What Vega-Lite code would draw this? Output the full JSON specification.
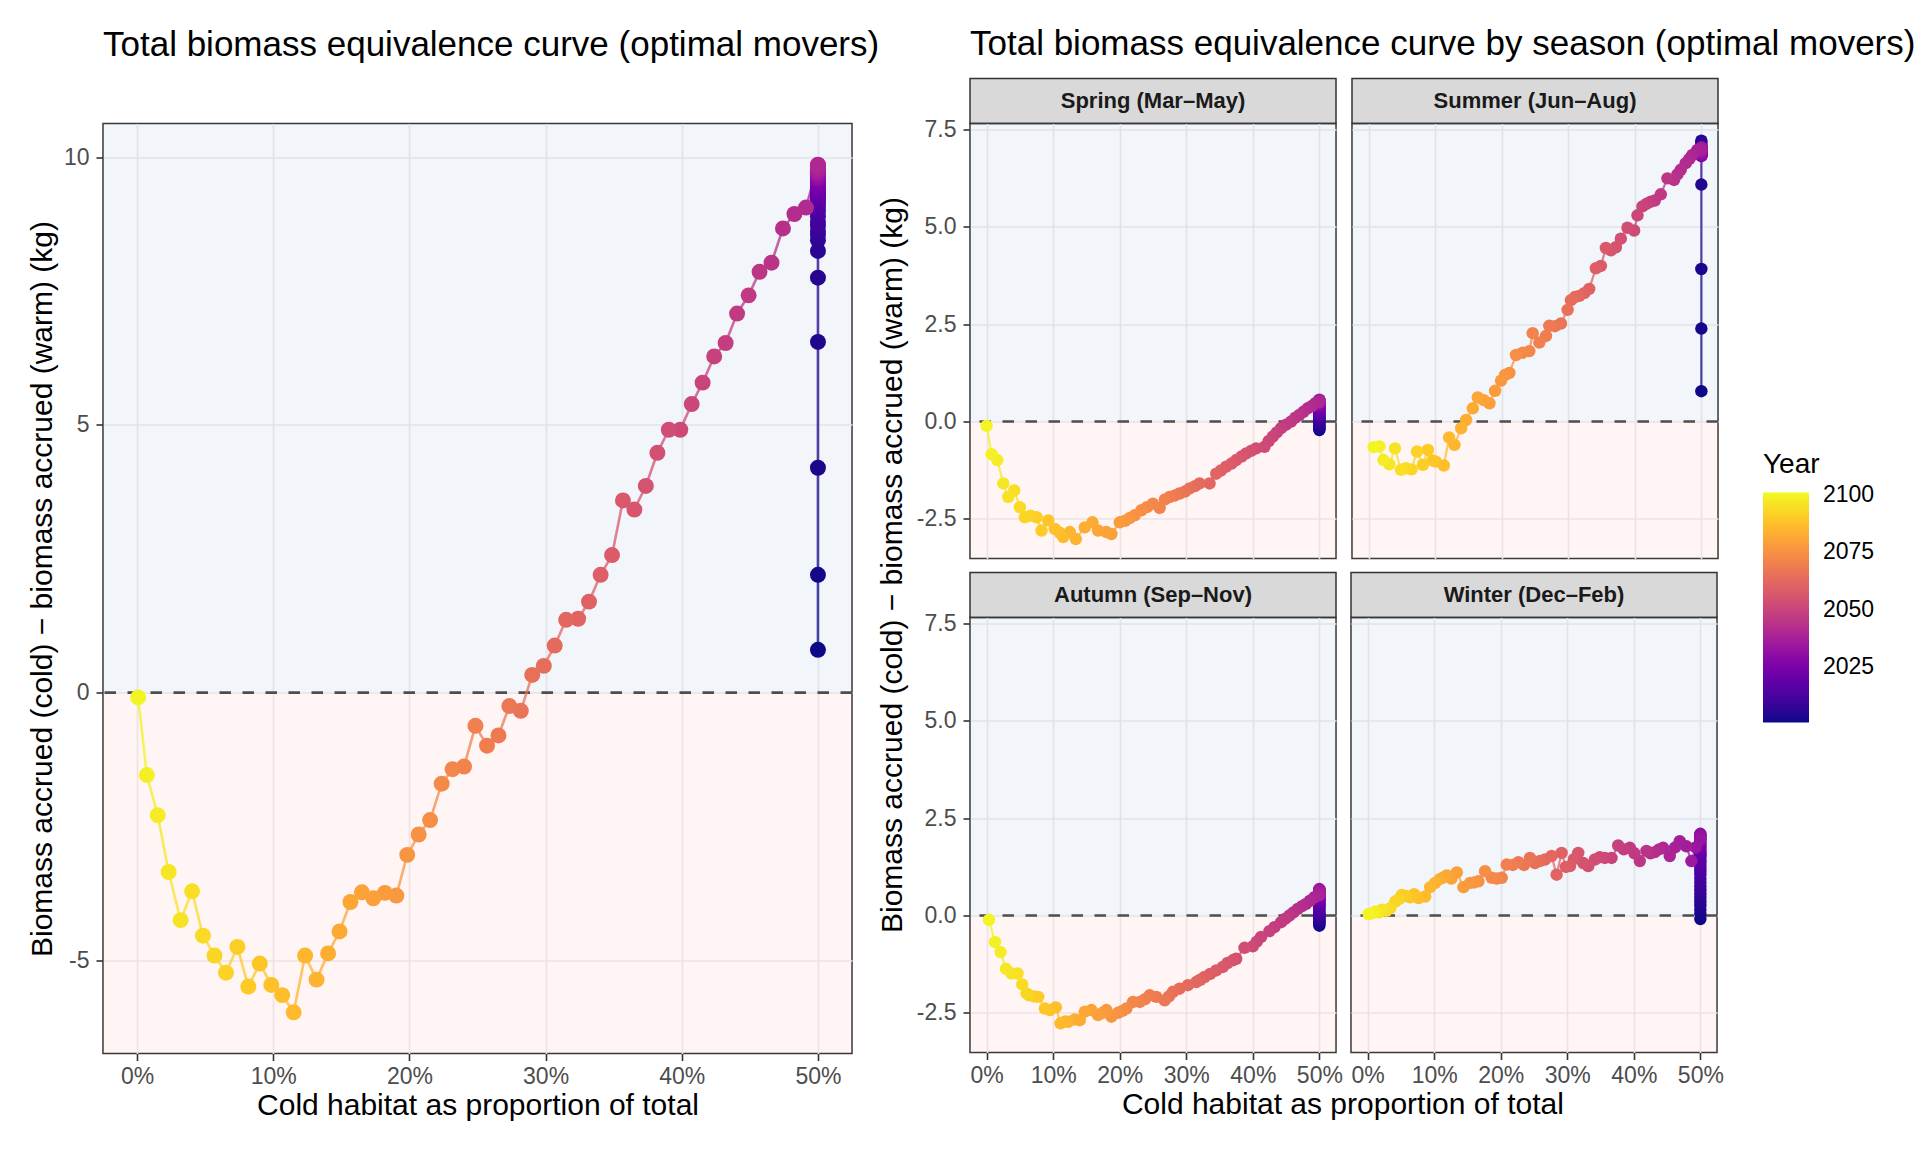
{
  "$schema": "https://vega.github.io/schema/vega-lite/v6.json",
  "padding": {"left": 26, "top": 26.5, "right": 0, "bottom": 0},
  "background": "white",
  "config": {
    "font": "Liberation Sans",
    "view": {"stroke": "#333333", "strokeWidth": 1.5},
    "axis": {"labelFontSize": 23, "labelColor": "#4D4D4D", "labelFont": "Liberation Sans", "titleFont": "Liberation Sans", "titleFontSize": 30, "titleFontWeight": "normal", "titleColor": "#000000", "tickColor": "#333333", "tickSize": 7, "tickWidth": 1.6, "domain": false, "gridColor": "#EBEBEB", "gridWidth": 1.6, "labelFlush": false, "labelPadding": 6},
    "title": {"fontSize": 35, "fontWeight": "normal", "color": "#000000", "font": "Liberation Sans"},
    "legend": {"orient": "none", "legendX": 1660, "legendY": 372, "direction": "vertical", "gradientLength": 230, "gradientThickness": 46, "titleFontSize": 28, "titleFontWeight": "normal", "titleColor": "#000000", "labelFontSize": 23, "labelColor": "#000000", "titlePadding": 14, "labelOffset": 14, "gradientStrokeWidth": 0, "labelFont": "Liberation Sans", "titleFont": "Liberation Sans"}
  },
  "datasets": {
    "tot": [
      {"yr":2100,"p":0.08,"v":-0.09},{"yr":2099,"p":0.72,"v":-1.54},{"yr":2098,"p":1.52,"v":-2.29},{"yr":2097,"p":2.32,"v":-3.35},
      {"yr":2096,"p":3.20,"v":-4.25},{"yr":2095,"p":4.04,"v":-3.71},{"yr":2094,"p":4.84,"v":-4.54},{"yr":2093,"p":5.69,"v":-4.91},
      {"yr":2092,"p":6.53,"v":-5.23},{"yr":2091,"p":7.37,"v":-4.75},{"yr":2090,"p":8.17,"v":-5.49},{"yr":2089,"p":9.01,"v":-5.06},
      {"yr":2088,"p":9.86,"v":-5.46},{"yr":2087,"p":10.66,"v":-5.65},{"yr":2086,"p":11.50,"v":-5.97},{"yr":2085,"p":12.34,"v":-4.91},
      {"yr":2084,"p":13.18,"v":-5.36},{"yr":2083,"p":14.03,"v":-4.87},{"yr":2082,"p":14.87,"v":-4.46},{"yr":2081,"p":15.67,"v":-3.91},
      {"yr":2080,"p":16.51,"v":-3.73},{"yr":2079,"p":17.35,"v":-3.84},{"yr":2078,"p":18.20,"v":-3.74},{"yr":2077,"p":19.04,"v":-3.79},
      {"yr":2076,"p":19.84,"v":-3.03},{"yr":2075,"p":20.68,"v":-2.65},{"yr":2074,"p":21.52,"v":-2.38},{"yr":2073,"p":22.37,"v":-1.70},
      {"yr":2072,"p":23.17,"v":-1.43},{"yr":2071,"p":24.01,"v":-1.38},{"yr":2070,"p":24.85,"v":-0.62},{"yr":2069,"p":25.70,"v":-0.99},
      {"yr":2068,"p":26.54,"v":-0.80},{"yr":2067,"p":27.34,"v":-0.25},{"yr":2066,"p":28.18,"v":-0.34},{"yr":2065,"p":29.02,"v":0.33},
      {"yr":2064,"p":29.87,"v":0.50},{"yr":2063,"p":30.67,"v":0.88},{"yr":2062,"p":31.51,"v":1.36},{"yr":2061,"p":32.39,"v":1.38},
      {"yr":2060,"p":33.19,"v":1.70},{"yr":2059,"p":34.04,"v":2.20},{"yr":2058,"p":34.88,"v":2.57},{"yr":2057,"p":35.68,"v":3.59},
      {"yr":2056,"p":36.52,"v":3.42},{"yr":2055,"p":37.36,"v":3.86},{"yr":2054,"p":38.21,"v":4.48},{"yr":2053,"p":39.05,"v":4.91},
      {"yr":2052,"p":39.89,"v":4.91},{"yr":2051,"p":40.73,"v":5.39},{"yr":2050,"p":41.53,"v":5.79},{"yr":2049,"p":42.38,"v":6.28},
      {"yr":2048,"p":43.22,"v":6.53},{"yr":2047,"p":44.06,"v":7.08},{"yr":2046,"p":44.91,"v":7.42},{"yr":2045,"p":45.71,"v":7.86},
      {"yr":2044,"p":46.59,"v":8.03},{"yr":2043,"p":47.43,"v":8.67},{"yr":2042,"p":48.27,"v":8.94},{"yr":2041,"p":49.12,"v":9.06},
      {"yr":2040,"p":50,"v":9.86},{"yr":2039,"p":50,"v":9.80},{"yr":2038,"p":50,"v":9.85},{"yr":2037,"p":50,"v":9.74},
      {"yr":2036,"p":50,"v":9.82},{"yr":2035,"p":50,"v":9.78},{"yr":2034,"p":50,"v":9.68},{"yr":2033,"p":50,"v":9.75},
      {"yr":2032,"p":50,"v":9.72},{"yr":2031,"p":50,"v":9.62},{"yr":2030,"p":50,"v":9.70},{"yr":2029,"p":50,"v":9.65},
      {"yr":2028,"p":50,"v":9.58},{"yr":2027,"p":50,"v":9.60},{"yr":2026,"p":50,"v":9.55},{"yr":2025,"p":50,"v":9.48},
      {"yr":2024,"p":50,"v":9.50},{"yr":2023,"p":50,"v":9.45},{"yr":2022,"p":50,"v":9.38},{"yr":2021,"p":50,"v":9.40},
      {"yr":2020,"p":50,"v":9.35},{"yr":2019,"p":50,"v":9.26},{"yr":2018,"p":50,"v":9.30},{"yr":2017,"p":50,"v":9.22},
      {"yr":2016,"p":50,"v":9.18},{"yr":2015,"p":50,"v":9.12},{"yr":2014,"p":50,"v":9.05},{"yr":2013,"p":50,"v":8.98},
      {"yr":2012,"p":50,"v":8.90},{"yr":2011,"p":50,"v":8.80},{"yr":2010,"p":50,"v":8.72},{"yr":2009,"p":50,"v":8.62},
      {"yr":2008,"p":50,"v":8.55},{"yr":2007,"p":50,"v":8.45},{"yr":2006,"p":50,"v":8.25},{"yr":2005,"p":50,"v":7.75},
      {"yr":2004,"p":50,"v":6.55},{"yr":2003,"p":50,"v":4.20},{"yr":2002,"p":50,"v":2.20},{"yr":2001,"p":50,"v":0.80}
    ],
    "sea": [
      {"s":"Spring","yr":2100,"p":0.0,"v":-0.11},{"s":"Spring","yr":2099,"p":0.75,"v":-0.84},{"s":"Spring","yr":2098,"p":1.6,"v":-0.99},
      {"s":"Spring","yr":2097,"p":2.5,"v":-1.59},{"s":"Spring","yr":2096,"p":3.25,"v":-1.94},{"s":"Spring","yr":2095,"p":4.15,"v":-1.77},
      {"s":"Spring","yr":2094,"p":5.0,"v":-2.2},{"s":"Spring","yr":2093,"p":5.75,"v":-2.46},{"s":"Spring","yr":2092,"p":6.6,"v":-2.42},
      {"s":"Spring","yr":2091,"p":7.5,"v":-2.46},{"s":"Spring","yr":2090,"p":8.25,"v":-2.8},{"s":"Spring","yr":2089,"p":9.25,"v":-2.54},
      {"s":"Spring","yr":2088,"p":10.25,"v":-2.76},{"s":"Spring","yr":2087,"p":11.0,"v":-2.86},{"s":"Spring","yr":2086,"p":11.5,"v":-2.97},
      {"s":"Spring","yr":2085,"p":12.5,"v":-2.84},{"s":"Spring","yr":2084,"p":13.4,"v":-3.02},{"s":"Spring","yr":2083,"p":14.75,"v":-2.72},
      {"s":"Spring","yr":2082,"p":15.9,"v":-2.59},{"s":"Spring","yr":2081,"p":16.75,"v":-2.8},{"s":"Spring","yr":2080,"p":18.0,"v":-2.84},
      {"s":"Spring","yr":2079,"p":18.75,"v":-2.89},{"s":"Spring","yr":2078,"p":20.0,"v":-2.59},{"s":"Spring","yr":2077,"p":20.8,"v":-2.55},
      {"s":"Spring","yr":2076,"p":21.5,"v":-2.48},{"s":"Spring","yr":2075,"p":22.25,"v":-2.41},{"s":"Spring","yr":2074,"p":23.25,"v":-2.28},
      {"s":"Spring","yr":2073,"p":24.1,"v":-2.2},{"s":"Spring","yr":2072,"p":25.0,"v":-2.11},{"s":"Spring","yr":2071,"p":26.0,"v":-2.22},
      {"s":"Spring","yr":2070,"p":26.8,"v":-2.0},{"s":"Spring","yr":2069,"p":27.5,"v":-1.94},{"s":"Spring","yr":2068,"p":28.3,"v":-1.9},
      {"s":"Spring","yr":2067,"p":29.0,"v":-1.85},{"s":"Spring","yr":2066,"p":29.8,"v":-1.8},{"s":"Spring","yr":2065,"p":30.5,"v":-1.72},
      {"s":"Spring","yr":2064,"p":31.3,"v":-1.66},{"s":"Spring","yr":2063,"p":32.0,"v":-1.59},{"s":"Spring","yr":2062,"p":33.5,"v":-1.59},
      {"s":"Spring","yr":2061,"p":34.5,"v":-1.34},{"s":"Spring","yr":2060,"p":35.2,"v":-1.26},{"s":"Spring","yr":2059,"p":36.0,"v":-1.16},
      {"s":"Spring","yr":2058,"p":36.8,"v":-1.08},{"s":"Spring","yr":2057,"p":37.5,"v":-0.99},{"s":"Spring","yr":2056,"p":38.3,"v":-0.9},
      {"s":"Spring","yr":2055,"p":39.0,"v":-0.82},{"s":"Spring","yr":2054,"p":39.8,"v":-0.75},{"s":"Spring","yr":2053,"p":40.5,"v":-0.69},
      {"s":"Spring","yr":2052,"p":41.75,"v":-0.65},{"s":"Spring","yr":2051,"p":42.4,"v":-0.5},{"s":"Spring","yr":2050,"p":43.0,"v":-0.39},
      {"s":"Spring","yr":2049,"p":43.6,"v":-0.28},{"s":"Spring","yr":2048,"p":44.25,"v":-0.17},{"s":"Spring","yr":2047,"p":45.0,"v":-0.08},
      {"s":"Spring","yr":2046,"p":45.75,"v":0.0},{"s":"Spring","yr":2045,"p":46.4,"v":0.1},{"s":"Spring","yr":2044,"p":47.0,"v":0.17},
      {"s":"Spring","yr":2043,"p":47.6,"v":0.25},{"s":"Spring","yr":2042,"p":48.25,"v":0.34},{"s":"Spring","yr":2041,"p":48.9,"v":0.4},
      {"s":"Spring","yr":2040,"p":49.4,"v":0.47},
      {"s":"Spring","yr":2039,"p":50,"v":0.5},{"s":"Spring","yr":2038,"p":50,"v":0.52},{"s":"Spring","yr":2037,"p":50,"v":0.55},
      {"s":"Spring","yr":2036,"p":50,"v":0.56},{"s":"Spring","yr":2035,"p":50,"v":0.53},{"s":"Spring","yr":2034,"p":50,"v":0.54},
      {"s":"Spring","yr":2033,"p":50,"v":0.52},{"s":"Spring","yr":2032,"p":50,"v":0.49},{"s":"Spring","yr":2031,"p":50,"v":0.5},
      {"s":"Spring","yr":2030,"p":50,"v":0.48},{"s":"Spring","yr":2029,"p":50,"v":0.44},{"s":"Spring","yr":2028,"p":50,"v":0.45},
      {"s":"Spring","yr":2027,"p":50,"v":0.43},{"s":"Spring","yr":2026,"p":50,"v":0.39},{"s":"Spring","yr":2025,"p":50,"v":0.4},
      {"s":"Spring","yr":2024,"p":50,"v":0.38},{"s":"Spring","yr":2023,"p":50,"v":0.35},{"s":"Spring","yr":2022,"p":50,"v":0.31},
      {"s":"Spring","yr":2021,"p":50,"v":0.32},{"s":"Spring","yr":2020,"p":50,"v":0.3},{"s":"Spring","yr":2019,"p":50,"v":0.27},
      {"s":"Spring","yr":2018,"p":50,"v":0.23},{"s":"Spring","yr":2017,"p":50,"v":0.24},{"s":"Spring","yr":2016,"p":50,"v":0.21},
      {"s":"Spring","yr":2015,"p":50,"v":0.18},{"s":"Spring","yr":2014,"p":50,"v":0.14},{"s":"Spring","yr":2013,"p":50,"v":0.15},
      {"s":"Spring","yr":2012,"p":50,"v":0.12},{"s":"Spring","yr":2011,"p":50,"v":0.1},{"s":"Spring","yr":2010,"p":50,"v":0.07},
      {"s":"Spring","yr":2009,"p":50,"v":0.04},{"s":"Spring","yr":2008,"p":50,"v":0.02},{"s":"Spring","yr":2007,"p":50,"v":-0.02},
      {"s":"Spring","yr":2006,"p":50,"v":-0.05},{"s":"Spring","yr":2005,"p":50,"v":-0.1},{"s":"Spring","yr":2004,"p":50,"v":-0.12},
      {"s":"Spring","yr":2003,"p":50,"v":-0.16},{"s":"Spring","yr":2002,"p":50,"v":-0.19},{"s":"Spring","yr":2001,"p":50,"v":-0.22},

      {"s":"Summer","yr":2100,"p":0.74,"v":-0.66},{"s":"Summer","yr":2099,"p":1.63,"v":-0.64},{"s":"Summer","yr":2098,"p":2.23,"v":-0.99},
      {"s":"Summer","yr":2097,"p":3.12,"v":-1.1},{"s":"Summer","yr":2096,"p":3.96,"v":-0.69},{"s":"Summer","yr":2095,"p":4.85,"v":-1.24},
      {"s":"Summer","yr":2094,"p":5.6,"v":-1.2},{"s":"Summer","yr":2093,"p":6.44,"v":-1.23},{"s":"Summer","yr":2092,"p":7.27,"v":-0.77},
      {"s":"Summer","yr":2091,"p":8.16,"v":-1.11},{"s":"Summer","yr":2090,"p":8.9,"v":-0.73},{"s":"Summer","yr":2089,"p":9.6,"v":-1.0},
      {"s":"Summer","yr":2088,"p":10.1,"v":-1.03},{"s":"Summer","yr":2087,"p":11.3,"v":-1.13},{"s":"Summer","yr":2086,"p":12.1,"v":-0.41},
      {"s":"Summer","yr":2085,"p":12.9,"v":-0.6},{"s":"Summer","yr":2084,"p":13.9,"v":-0.17},{"s":"Summer","yr":2083,"p":14.65,"v":0.04},
      {"s":"Summer","yr":2082,"p":15.65,"v":0.34},{"s":"Summer","yr":2081,"p":16.4,"v":0.62},{"s":"Summer","yr":2080,"p":17.3,"v":0.55},
      {"s":"Summer","yr":2079,"p":18.15,"v":0.47},{"s":"Summer","yr":2078,"p":19.0,"v":0.79},{"s":"Summer","yr":2077,"p":19.9,"v":1.05},
      {"s":"Summer","yr":2076,"p":20.5,"v":1.2},{"s":"Summer","yr":2075,"p":21.15,"v":1.25},{"s":"Summer","yr":2074,"p":22.15,"v":1.71},
      {"s":"Summer","yr":2073,"p":23.15,"v":1.77},{"s":"Summer","yr":2072,"p":24.15,"v":1.81},{"s":"Summer","yr":2071,"p":24.65,"v":2.27},
      {"s":"Summer","yr":2070,"p":25.65,"v":2.03},{"s":"Summer","yr":2069,"p":26.65,"v":2.2},{"s":"Summer","yr":2068,"p":27.15,"v":2.46},
      {"s":"Summer","yr":2067,"p":28.0,"v":2.45},{"s":"Summer","yr":2066,"p":28.9,"v":2.52},{"s":"Summer","yr":2065,"p":29.9,"v":2.87},
      {"s":"Summer","yr":2064,"p":30.4,"v":3.12},{"s":"Summer","yr":2063,"p":31.0,"v":3.2},{"s":"Summer","yr":2062,"p":31.65,"v":3.23},
      {"s":"Summer","yr":2061,"p":32.4,"v":3.3},{"s":"Summer","yr":2060,"p":33.15,"v":3.41},{"s":"Summer","yr":2059,"p":34.15,"v":3.94},
      {"s":"Summer","yr":2058,"p":34.9,"v":4.0},{"s":"Summer","yr":2057,"p":35.65,"v":4.46},{"s":"Summer","yr":2056,"p":36.4,"v":4.4},
      {"s":"Summer","yr":2055,"p":37.15,"v":4.48},{"s":"Summer","yr":2054,"p":37.9,"v":4.7},{"s":"Summer","yr":2053,"p":38.9,"v":4.98},
      {"s":"Summer","yr":2052,"p":39.9,"v":4.91},{"s":"Summer","yr":2051,"p":40.4,"v":5.3},{"s":"Summer","yr":2050,"p":41.15,"v":5.53},
      {"s":"Summer","yr":2049,"p":41.8,"v":5.6},{"s":"Summer","yr":2048,"p":42.4,"v":5.65},{"s":"Summer","yr":2047,"p":43.0,"v":5.68},
      {"s":"Summer","yr":2046,"p":43.9,"v":5.84},{"s":"Summer","yr":2045,"p":44.9,"v":6.25},{"s":"Summer","yr":2044,"p":45.9,"v":6.21},
      {"s":"Summer","yr":2043,"p":46.4,"v":6.35},{"s":"Summer","yr":2042,"p":46.9,"v":6.47},{"s":"Summer","yr":2041,"p":47.65,"v":6.64},
      {"s":"Summer","yr":2040,"p":48.2,"v":6.75},{"s":"Summer","yr":2039,"p":48.65,"v":6.85},{"s":"Summer","yr":2038,"p":49.4,"v":6.98},
      {"s":"Summer","yr":2037,"p":50,"v":7.0},{"s":"Summer","yr":2036,"p":50,"v":6.98},{"s":"Summer","yr":2035,"p":50,"v":7.05},
      {"s":"Summer","yr":2034,"p":50,"v":6.94},{"s":"Summer","yr":2033,"p":50,"v":7.0},{"s":"Summer","yr":2032,"p":50,"v":6.9},
      {"s":"Summer","yr":2031,"p":50,"v":6.97},{"s":"Summer","yr":2030,"p":50,"v":6.86},{"s":"Summer","yr":2029,"p":50,"v":6.93},
      {"s":"Summer","yr":2028,"p":50,"v":6.88},{"s":"Summer","yr":2027,"p":50,"v":6.82},{"s":"Summer","yr":2026,"p":50,"v":6.9},
      {"s":"Summer","yr":2025,"p":50,"v":6.85},{"s":"Summer","yr":2024,"p":50,"v":6.95},{"s":"Summer","yr":2023,"p":50,"v":6.87},
      {"s":"Summer","yr":2022,"p":50,"v":6.92},{"s":"Summer","yr":2021,"p":50,"v":6.84},{"s":"Summer","yr":2020,"p":50,"v":6.9},
      {"s":"Summer","yr":2019,"p":50,"v":6.86},{"s":"Summer","yr":2018,"p":50,"v":6.93},{"s":"Summer","yr":2017,"p":50,"v":6.88},
      {"s":"Summer","yr":2016,"p":50,"v":6.94},{"s":"Summer","yr":2015,"p":50,"v":6.9},{"s":"Summer","yr":2014,"p":50,"v":6.97},
      {"s":"Summer","yr":2013,"p":50,"v":6.92},{"s":"Summer","yr":2012,"p":50,"v":7.0},{"s":"Summer","yr":2011,"p":50,"v":6.95},
      {"s":"Summer","yr":2010,"p":50,"v":7.02},{"s":"Summer","yr":2009,"p":50,"v":6.98},{"s":"Summer","yr":2008,"p":50,"v":7.05},
      {"s":"Summer","yr":2007,"p":50,"v":7.1},{"s":"Summer","yr":2006,"p":50,"v":7.16},{"s":"Summer","yr":2005,"p":50,"v":7.22},
      {"s":"Summer","yr":2004,"p":50,"v":6.09},{"s":"Summer","yr":2003,"p":50,"v":3.92},{"s":"Summer","yr":2002,"p":50,"v":2.39},
      {"s":"Summer","yr":2001,"p":50,"v":0.78},

      {"s":"Autumn","yr":2100,"p":0.35,"v":-0.11},{"s":"Autumn","yr":2099,"p":1.25,"v":-0.68},{"s":"Autumn","yr":2098,"p":2.1,"v":-0.94},
      {"s":"Autumn","yr":2097,"p":2.9,"v":-1.37},{"s":"Autumn","yr":2096,"p":3.75,"v":-1.49},{"s":"Autumn","yr":2095,"p":4.65,"v":-1.49},
      {"s":"Autumn","yr":2094,"p":5.35,"v":-1.77},{"s":"Autumn","yr":2093,"p":6.0,"v":-2.0},{"s":"Autumn","yr":2092,"p":6.4,"v":-2.05},
      {"s":"Autumn","yr":2091,"p":7.1,"v":-2.08},{"s":"Autumn","yr":2090,"p":7.75,"v":-2.09},{"s":"Autumn","yr":2089,"p":8.75,"v":-2.39},
      {"s":"Autumn","yr":2088,"p":9.5,"v":-2.43},{"s":"Autumn","yr":2087,"p":10.4,"v":-2.36},{"s":"Autumn","yr":2086,"p":11.1,"v":-2.77},
      {"s":"Autumn","yr":2085,"p":11.8,"v":-2.72},{"s":"Autumn","yr":2084,"p":12.25,"v":-2.73},{"s":"Autumn","yr":2083,"p":13.25,"v":-2.67},
      {"s":"Autumn","yr":2082,"p":14.0,"v":-2.69},{"s":"Autumn","yr":2081,"p":14.75,"v":-2.47},{"s":"Autumn","yr":2080,"p":15.75,"v":-2.43},
      {"s":"Autumn","yr":2079,"p":16.75,"v":-2.56},{"s":"Autumn","yr":2078,"p":17.4,"v":-2.5},{"s":"Autumn","yr":2077,"p":18.0,"v":-2.43},
      {"s":"Autumn","yr":2076,"p":18.75,"v":-2.6},{"s":"Autumn","yr":2075,"p":19.75,"v":-2.5},{"s":"Autumn","yr":2074,"p":20.4,"v":-2.45},
      {"s":"Autumn","yr":2073,"p":21.0,"v":-2.39},{"s":"Autumn","yr":2072,"p":22.0,"v":-2.22},{"s":"Autumn","yr":2071,"p":23.0,"v":-2.22},
      {"s":"Autumn","yr":2070,"p":23.8,"v":-2.15},{"s":"Autumn","yr":2069,"p":24.5,"v":-2.05},{"s":"Autumn","yr":2068,"p":25.5,"v":-2.09},
      {"s":"Autumn","yr":2067,"p":26.75,"v":-2.18},{"s":"Autumn","yr":2066,"p":27.4,"v":-2.08},{"s":"Autumn","yr":2065,"p":28.0,"v":-1.96},
      {"s":"Autumn","yr":2064,"p":29.0,"v":-1.88},{"s":"Autumn","yr":2063,"p":30.25,"v":-1.79},{"s":"Autumn","yr":2062,"p":31.5,"v":-1.71},
      {"s":"Autumn","yr":2061,"p":32.1,"v":-1.65},{"s":"Autumn","yr":2060,"p":32.75,"v":-1.58},{"s":"Autumn","yr":2059,"p":33.6,"v":-1.5},
      {"s":"Autumn","yr":2058,"p":34.5,"v":-1.41},{"s":"Autumn","yr":2057,"p":35.5,"v":-1.32},{"s":"Autumn","yr":2056,"p":36.2,"v":-1.22},
      {"s":"Autumn","yr":2055,"p":37.0,"v":-1.15},{"s":"Autumn","yr":2054,"p":37.5,"v":-1.11},{"s":"Autumn","yr":2053,"p":38.75,"v":-0.83},
      {"s":"Autumn","yr":2052,"p":40.0,"v":-0.79},{"s":"Autumn","yr":2051,"p":40.6,"v":-0.67},{"s":"Autumn","yr":2050,"p":41.25,"v":-0.55},
      {"s":"Autumn","yr":2049,"p":42.5,"v":-0.4},{"s":"Autumn","yr":2048,"p":43.25,"v":-0.3},{"s":"Autumn","yr":2047,"p":44.25,"v":-0.17},
      {"s":"Autumn","yr":2046,"p":44.9,"v":-0.08},{"s":"Autumn","yr":2045,"p":45.5,"v":0.0},{"s":"Autumn","yr":2044,"p":46.1,"v":0.08},
      {"s":"Autumn","yr":2043,"p":46.75,"v":0.17},{"s":"Autumn","yr":2042,"p":47.4,"v":0.24},{"s":"Autumn","yr":2041,"p":48.0,"v":0.3},
      {"s":"Autumn","yr":2040,"p":48.6,"v":0.38},{"s":"Autumn","yr":2039,"p":49.25,"v":0.47},
      {"s":"Autumn","yr":2038,"p":50,"v":0.52},{"s":"Autumn","yr":2037,"p":50,"v":0.56},{"s":"Autumn","yr":2036,"p":50,"v":0.6},
      {"s":"Autumn","yr":2035,"p":50,"v":0.63},{"s":"Autumn","yr":2034,"p":50,"v":0.66},{"s":"Autumn","yr":2033,"p":50,"v":0.68},
      {"s":"Autumn","yr":2032,"p":50,"v":0.66},{"s":"Autumn","yr":2031,"p":50,"v":0.64},{"s":"Autumn","yr":2030,"p":50,"v":0.62},
      {"s":"Autumn","yr":2029,"p":50,"v":0.6},{"s":"Autumn","yr":2028,"p":50,"v":0.58},{"s":"Autumn","yr":2027,"p":50,"v":0.55},
      {"s":"Autumn","yr":2026,"p":50,"v":0.53},{"s":"Autumn","yr":2025,"p":50,"v":0.5},{"s":"Autumn","yr":2024,"p":50,"v":0.48},
      {"s":"Autumn","yr":2023,"p":50,"v":0.45},{"s":"Autumn","yr":2022,"p":50,"v":0.42},{"s":"Autumn","yr":2021,"p":50,"v":0.4},
      {"s":"Autumn","yr":2020,"p":50,"v":0.37},{"s":"Autumn","yr":2019,"p":50,"v":0.34},{"s":"Autumn","yr":2018,"p":50,"v":0.31},
      {"s":"Autumn","yr":2017,"p":50,"v":0.28},{"s":"Autumn","yr":2016,"p":50,"v":0.25},{"s":"Autumn","yr":2015,"p":50,"v":0.22},
      {"s":"Autumn","yr":2014,"p":50,"v":0.18},{"s":"Autumn","yr":2013,"p":50,"v":0.14},{"s":"Autumn","yr":2012,"p":50,"v":0.1},
      {"s":"Autumn","yr":2011,"p":50,"v":0.06},{"s":"Autumn","yr":2010,"p":50,"v":0.03},{"s":"Autumn","yr":2009,"p":50,"v":0.0},
      {"s":"Autumn","yr":2008,"p":50,"v":-0.03},{"s":"Autumn","yr":2007,"p":50,"v":-0.06},{"s":"Autumn","yr":2006,"p":50,"v":-0.09},
      {"s":"Autumn","yr":2005,"p":50,"v":-0.12},{"s":"Autumn","yr":2004,"p":50,"v":-0.15},{"s":"Autumn","yr":2003,"p":50,"v":-0.19},
      {"s":"Autumn","yr":2002,"p":50,"v":-0.22},{"s":"Autumn","yr":2001,"p":50,"v":-0.26},

      {"s":"Winter","yr":2100,"p":0.15,"v":0.04},{"s":"Winter","yr":2099,"p":0.7,"v":0.06},{"s":"Winter","yr":2098,"p":1.15,"v":0.1},
      {"s":"Winter","yr":2097,"p":1.7,"v":0.08},{"s":"Winter","yr":2096,"p":2.15,"v":0.15},{"s":"Winter","yr":2095,"p":2.8,"v":0.12},
      {"s":"Winter","yr":2094,"p":3.4,"v":0.19},{"s":"Winter","yr":2093,"p":4.15,"v":0.36},{"s":"Winter","yr":2092,"p":4.7,"v":0.42},
      {"s":"Winter","yr":2091,"p":5.15,"v":0.53},{"s":"Winter","yr":2090,"p":5.8,"v":0.5},{"s":"Winter","yr":2089,"p":6.4,"v":0.47},
      {"s":"Winter","yr":2088,"p":7.0,"v":0.55},{"s":"Winter","yr":2087,"p":7.65,"v":0.45},{"s":"Winter","yr":2086,"p":8.65,"v":0.49},
      {"s":"Winter","yr":2085,"p":9.4,"v":0.73},{"s":"Winter","yr":2084,"p":10.15,"v":0.84},{"s":"Winter","yr":2083,"p":10.9,"v":0.94},
      {"s":"Winter","yr":2082,"p":11.4,"v":0.98},{"s":"Winter","yr":2081,"p":11.9,"v":1.03},{"s":"Winter","yr":2080,"p":12.6,"v":0.95},
      {"s":"Winter","yr":2079,"p":13.4,"v":1.11},{"s":"Winter","yr":2078,"p":14.4,"v":0.73},{"s":"Winter","yr":2077,"p":15.4,"v":0.84},
      {"s":"Winter","yr":2076,"p":16.0,"v":0.85},{"s":"Winter","yr":2075,"p":16.65,"v":0.88},{"s":"Winter","yr":2074,"p":17.65,"v":1.14},
      {"s":"Winter","yr":2073,"p":18.65,"v":0.97},{"s":"Winter","yr":2072,"p":19.4,"v":0.95},{"s":"Winter","yr":2071,"p":20.15,"v":0.97},
      {"s":"Winter","yr":2070,"p":20.9,"v":1.31},{"s":"Winter","yr":2069,"p":21.8,"v":1.3},{"s":"Winter","yr":2068,"p":22.65,"v":1.37},
      {"s":"Winter","yr":2067,"p":23.5,"v":1.3},{"s":"Winter","yr":2066,"p":24.4,"v":1.48},{"s":"Winter","yr":2065,"p":25.15,"v":1.35},
      {"s":"Winter","yr":2064,"p":25.9,"v":1.4},{"s":"Winter","yr":2063,"p":26.65,"v":1.44},{"s":"Winter","yr":2062,"p":27.65,"v":1.53},
      {"s":"Winter","yr":2061,"p":28.4,"v":1.05},{"s":"Winter","yr":2060,"p":29.15,"v":1.61},{"s":"Winter","yr":2059,"p":29.8,"v":1.25},
      {"s":"Winter","yr":2058,"p":30.4,"v":1.27},{"s":"Winter","yr":2057,"p":31.0,"v":1.45},{"s":"Winter","yr":2056,"p":31.65,"v":1.61},
      {"s":"Winter","yr":2055,"p":32.4,"v":1.35},{"s":"Winter","yr":2054,"p":33.15,"v":1.27},{"s":"Winter","yr":2053,"p":34.15,"v":1.44},
      {"s":"Winter","yr":2052,"p":34.9,"v":1.5},{"s":"Winter","yr":2051,"p":35.65,"v":1.48},{"s":"Winter","yr":2050,"p":36.65,"v":1.48},
      {"s":"Winter","yr":2049,"p":37.65,"v":1.8},{"s":"Winter","yr":2048,"p":38.5,"v":1.7},{"s":"Winter","yr":2047,"p":39.4,"v":1.74},
      {"s":"Winter","yr":2046,"p":40.1,"v":1.6},{"s":"Winter","yr":2045,"p":40.9,"v":1.4},{"s":"Winter","yr":2044,"p":41.9,"v":1.66},
      {"s":"Winter","yr":2043,"p":42.5,"v":1.6},{"s":"Winter","yr":2042,"p":43.15,"v":1.63},{"s":"Winter","yr":2041,"p":43.8,"v":1.7},
      {"s":"Winter","yr":2040,"p":44.4,"v":1.74},{"s":"Winter","yr":2039,"p":45.4,"v":1.53},{"s":"Winter","yr":2038,"p":46.2,"v":1.75},
      {"s":"Winter","yr":2037,"p":46.9,"v":1.91},{"s":"Winter","yr":2036,"p":47.9,"v":1.78},{"s":"Winter","yr":2035,"p":48.65,"v":1.4},
      {"s":"Winter","yr":2034,"p":49.3,"v":1.75},
      {"s":"Winter","yr":2033,"p":50,"v":1.96},{"s":"Winter","yr":2032,"p":50,"v":2.02},{"s":"Winter","yr":2031,"p":50,"v":2.1},
      {"s":"Winter","yr":2030,"p":50,"v":2.07},{"s":"Winter","yr":2029,"p":50,"v":2.04},{"s":"Winter","yr":2028,"p":50,"v":1.99},
      {"s":"Winter","yr":2027,"p":50,"v":1.94},{"s":"Winter","yr":2026,"p":50,"v":1.9},{"s":"Winter","yr":2025,"p":50,"v":1.84},
      {"s":"Winter","yr":2024,"p":50,"v":1.8},{"s":"Winter","yr":2023,"p":50,"v":1.75},{"s":"Winter","yr":2022,"p":50,"v":1.7},
      {"s":"Winter","yr":2021,"p":50,"v":1.64},{"s":"Winter","yr":2020,"p":50,"v":1.6},{"s":"Winter","yr":2019,"p":50,"v":1.55},
      {"s":"Winter","yr":2018,"p":50,"v":1.5},{"s":"Winter","yr":2017,"p":50,"v":1.42},{"s":"Winter","yr":2016,"p":50,"v":1.35},
      {"s":"Winter","yr":2015,"p":50,"v":1.28},{"s":"Winter","yr":2014,"p":50,"v":1.2},{"s":"Winter","yr":2013,"p":50,"v":1.12},
      {"s":"Winter","yr":2012,"p":50,"v":1.05},{"s":"Winter","yr":2011,"p":50,"v":0.95},{"s":"Winter","yr":2010,"p":50,"v":0.85},
      {"s":"Winter","yr":2009,"p":50,"v":0.75},{"s":"Winter","yr":2008,"p":50,"v":0.65},{"s":"Winter","yr":2007,"p":50,"v":0.55},
      {"s":"Winter","yr":2006,"p":50,"v":0.45},{"s":"Winter","yr":2005,"p":50,"v":0.35},{"s":"Winter","yr":2004,"p":50,"v":0.25},
      {"s":"Winter","yr":2003,"p":50,"v":0.15},{"s":"Winter","yr":2002,"p":50,"v":0.05},{"s":"Winter","yr":2001,"p":50,"v":-0.09}
    ]
  },
  "spacing": -3,
  "hconcat": [
    {
      "bounds": "flush",
      "spacing": 0,
      "vconcat": [
        {
          "width": 749, "height": 45,
          "title": {"text": "Total biomass equivalence curve (optimal movers)", "anchor": "start", "frame": "group", "offset": -12, "baseline": "alphabetic"},
          "view": {"stroke": null},
          "data": {"values": [{}]},
          "mark": {"type": "text"},
          "encoding": {"text": {"value": ""}}
        },
        {
          "width": 749, "height": 930,
          "layer": [
            {"data": {"values": [{}]}, "mark": {"type": "rect", "color": "#7DA5CD", "opacity": 0.1},
             "encoding": {
               "x": {"datum": -2.5, "type": "quantitative", "scale": {"domain": [-2.5, 52.5], "nice": false, "zero": false},
                     "axis": {"values": [0, 10, 20, 30, 40, 50], "labelExpr": "datum.value + '%'", "title": "Cold habitat as proportion of total", "grid": true, "titlePadding": 2, "labelPadding": 5}},
               "x2": {"datum": 52.5},
               "y": {"datum": 0, "type": "quantitative", "scale": {"domain": [-6.74, 10.63], "nice": false, "zero": false},
                     "axis": {"values": [-5, 0, 5, 10], "labelExpr": "replace(format(datum.value, 'd'), '\u2212', '-')", "title": "Biomass accrued (cold) \u2212 biomass accrued (warm)  (kg)", "grid": true, "titlePadding": 6, "labelPadding": 7}},
               "y2": {"datum": 10.63}}},
            {"data": {"values": [{}]}, "mark": {"type": "rect", "color": "#FF9B9B", "opacity": 0.1},
             "encoding": {"x": {"datum": -2.5, "type": "quantitative"}, "x2": {"datum": 52.5}, "y": {"datum": -6.74, "type": "quantitative"}, "y2": {"datum": 0}}},
            {"data": {"values": [{}]}, "mark": {"type": "rule", "strokeDash": [11.5, 11.5], "color": "#4D4D4D", "strokeWidth": 2.6},
             "encoding": {"y": {"datum": 0, "type": "quantitative"}}},
            {"data": {"name": "tot"},
             "transform": [
               {"window": [{"op": "lead", "field": "p", "as": "p2"}, {"op": "lead", "field": "v", "as": "v2"}], "sort": [{"field": "yr", "order": "ascending"}]},
               {"filter": "datum.p2 != null"}
             ],
             "mark": {"type": "rule", "strokeWidth": 2.6, "opacity": 0.75},
             "encoding": {
               "x": {"field": "p", "type": "quantitative"}, "y": {"field": "v", "type": "quantitative"},
               "x2": {"field": "p2"}, "y2": {"field": "v2"},
               "stroke": {"field": "yr", "type": "quantitative", "scale": {"scheme": "plasma", "domain": [2001, 2101.001]}, "legend": null}}},
            {"data": {"name": "tot"},
             "mark": {"type": "circle", "size": 255, "opacity": 1},
             "encoding": {
               "x": {"field": "p", "type": "quantitative"}, "y": {"field": "v", "type": "quantitative"},
               "order": {"field": "yr", "type": "quantitative"},
               "color": {"field": "yr", "type": "quantitative", "scale": {"scheme": "plasma", "domain": [2001, 2101]}, "legend": {"type": "gradient", "title": "Year", "values": [2025, 2050, 2075, 2100], "format": "d", "direction": "vertical", "labelOffset": 14}}}}
          ]
        }
      ]
    },
    {
      "title": {"text": "Total biomass equivalence curve by season (optimal movers)", "anchor": "start", "frame": "group", "offset": -12, "baseline": "alphabetic"},
      "hconcat": [
        {
          "title": {"text": "Biomass accrued (cold) \u2212 biomass accrued (warm)  (kg)", "orient": "left", "anchor": "middle", "frame": "bounds", "fontSize": 30, "offset": 8, "dx": 34},
          "spacing": 12,
          "vconcat": [
            {
              "spacing": 10,
              "hconcat": [
                {"bounds": "flush", "spacing": 0, "vconcat": [
                  {"width": 366, "height": 45, "view": {"fill": "#D9D9D9", "stroke": "#333333", "strokeWidth": 1.5}, "data": {"values": [{"lab": "Spring (Mar\u2013May)"}]},
                   "mark": {"type": "text", "fontSize": 22, "fontWeight": "bold", "color": "#1A1A1A", "baseline": "middle", "align": "center"}, "encoding": {"text": {"field": "lab", "type": "nominal"}}},
                  {"width": 366, "height": 435, "layer": [
                    {"data": {"values": [{}]}, "mark": {"type": "rect", "color": "#7DA5CD", "opacity": 0.1},
                     "encoding": {
                       "x": {"datum": -2.5, "type": "quantitative", "scale": {"domain": [-2.5, 52.5], "nice": false, "zero": false}, "axis": {"values": [0, 10, 20, 30, 40, 50], "labels": false, "ticks": false, "title": null, "grid": true}},
                       "x2": {"datum": 52.5},
                       "y": {"datum": 0, "type": "quantitative", "scale": {"domain": [-3.52, 7.66], "nice": false, "zero": false}, "axis": {"values": [-2.5, 0, 2.5, 5, 7.5], "labelExpr": "replace(format(datum.value, '.1f'), '\u2212', '-')", "title": null, "grid": true, "labelPadding": 7}},
                       "y2": {"datum": 7.66}}},
                    {"data": {"values": [{}]}, "mark": {"type": "rect", "color": "#FF9B9B", "opacity": 0.1},
                     "encoding": {"x": {"datum": -2.5, "type": "quantitative"}, "x2": {"datum": 52.5}, "y": {"datum": -3.52, "type": "quantitative"}, "y2": {"datum": 0}}},
                    {"data": {"values": [{}]}, "mark": {"type": "rule", "strokeDash": [11.5, 11.5], "color": "#4D4D4D", "strokeWidth": 2.6}, "encoding": {"y": {"datum": 0, "type": "quantitative"}}},
                    {"data": {"name": "sea"},
                     "transform": [{"filter": "datum.s == 'Spring'"}, {"window": [{"op": "lead", "field": "p", "as": "p2"}, {"op": "lead", "field": "v", "as": "v2"}], "sort": [{"field": "yr", "order": "ascending"}]}, {"filter": "datum.p2 != null"}],
                     "mark": {"type": "rule", "strokeWidth": 2.2, "opacity": 0.75},
                     "encoding": {"x": {"field": "p", "type": "quantitative"}, "y": {"field": "v", "type": "quantitative"}, "x2": {"field": "p2"}, "y2": {"field": "v2"},
                       "stroke": {"field": "yr", "type": "quantitative", "scale": {"scheme": "plasma", "domain": [2001, 2101.001]}, "legend": null}}},
                    {"data": {"name": "sea"}, "transform": [{"filter": "datum.s == 'Spring'"}],
                     "mark": {"type": "circle", "size": 155, "opacity": 1},
                     "encoding": {"x": {"field": "p", "type": "quantitative"}, "y": {"field": "v", "type": "quantitative"}, "order": {"field": "yr", "type": "quantitative"},
                       "color": {"field": "yr", "type": "quantitative", "scale": {"scheme": "plasma", "domain": [2001, 2101]}, "legend": {"type": "gradient", "title": "Year", "values": [2025, 2050, 2075, 2100], "format": "d", "direction": "vertical", "labelOffset": 14}}}}
                  ]}
                ]},
                {"bounds": "flush", "spacing": 0, "vconcat": [
                  {"width": 366, "height": 45, "view": {"fill": "#D9D9D9", "stroke": "#333333", "strokeWidth": 1.5}, "data": {"values": [{"lab": "Summer (Jun\u2013Aug)"}]},
                   "mark": {"type": "text", "fontSize": 22, "fontWeight": "bold", "color": "#1A1A1A", "baseline": "middle", "align": "center"}, "encoding": {"text": {"field": "lab", "type": "nominal"}}},
                  {"width": 366, "height": 435, "layer": [
                    {"data": {"values": [{}]}, "mark": {"type": "rect", "color": "#7DA5CD", "opacity": 0.1},
                     "encoding": {
                       "x": {"datum": -2.5, "type": "quantitative", "scale": {"domain": [-2.5, 52.5], "nice": false, "zero": false}, "axis": {"values": [0, 10, 20, 30, 40, 50], "labels": false, "ticks": false, "title": null, "grid": true}},
                       "x2": {"datum": 52.5},
                       "y": {"datum": 0, "type": "quantitative", "scale": {"domain": [-3.52, 7.66], "nice": false, "zero": false}, "axis": {"values": [-2.5, 0, 2.5, 5, 7.5], "labels": false, "ticks": false, "title": null, "grid": true}},
                       "y2": {"datum": 7.66}}},
                    {"data": {"values": [{}]}, "mark": {"type": "rect", "color": "#FF9B9B", "opacity": 0.1},
                     "encoding": {"x": {"datum": -2.5, "type": "quantitative"}, "x2": {"datum": 52.5}, "y": {"datum": -3.52, "type": "quantitative"}, "y2": {"datum": 0}}},
                    {"data": {"values": [{}]}, "mark": {"type": "rule", "strokeDash": [11.5, 11.5], "color": "#4D4D4D", "strokeWidth": 2.6}, "encoding": {"y": {"datum": 0, "type": "quantitative"}}},
                    {"data": {"name": "sea"},
                     "transform": [{"filter": "datum.s == 'Summer'"}, {"window": [{"op": "lead", "field": "p", "as": "p2"}, {"op": "lead", "field": "v", "as": "v2"}], "sort": [{"field": "yr", "order": "ascending"}]}, {"filter": "datum.p2 != null"}],
                     "mark": {"type": "rule", "strokeWidth": 2.2, "opacity": 0.75},
                     "encoding": {"x": {"field": "p", "type": "quantitative"}, "y": {"field": "v", "type": "quantitative"}, "x2": {"field": "p2"}, "y2": {"field": "v2"},
                       "stroke": {"field": "yr", "type": "quantitative", "scale": {"scheme": "plasma", "domain": [2001, 2101.001]}, "legend": null}}},
                    {"data": {"name": "sea"}, "transform": [{"filter": "datum.s == 'Summer'"}],
                     "mark": {"type": "circle", "size": 155, "opacity": 1},
                     "encoding": {"x": {"field": "p", "type": "quantitative"}, "y": {"field": "v", "type": "quantitative"}, "order": {"field": "yr", "type": "quantitative"},
                       "color": {"field": "yr", "type": "quantitative", "scale": {"scheme": "plasma", "domain": [2001, 2101]}, "legend": {"type": "gradient", "title": "Year", "values": [2025, 2050, 2075, 2100], "format": "d", "direction": "vertical", "labelOffset": 14}}}}
                  ]}
                ]}
              ]
            },
            {
              "spacing": 4,
              "title": {"text": "Cold habitat as proportion of total", "orient": "bottom", "anchor": "middle", "frame": "bounds", "fontSize": 30, "offset": 2, "baseline": "top", "dx": 23},
              "hconcat": [
                {"bounds": "flush", "spacing": 0, "vconcat": [
                  {"width": 366, "height": 45, "view": {"fill": "#D9D9D9", "stroke": "#333333", "strokeWidth": 1.5}, "data": {"values": [{"lab": "Autumn (Sep\u2013Nov)"}]},
                   "mark": {"type": "text", "fontSize": 22, "fontWeight": "bold", "color": "#1A1A1A", "baseline": "middle", "align": "center"}, "encoding": {"text": {"field": "lab", "type": "nominal"}}},
                  {"width": 366, "height": 435, "layer": [
                    {"data": {"values": [{}]}, "mark": {"type": "rect", "color": "#7DA5CD", "opacity": 0.1},
                     "encoding": {
                       "x": {"datum": -2.5, "type": "quantitative", "scale": {"domain": [-2.5, 52.5], "nice": false, "zero": false}, "axis": {"values": [0, 10, 20, 30, 40, 50], "labelExpr": "datum.value + '%'", "title": null, "grid": true, "labelPadding": 5}},
                       "x2": {"datum": 52.5},
                       "y": {"datum": 0, "type": "quantitative", "scale": {"domain": [-3.52, 7.66], "nice": false, "zero": false}, "axis": {"values": [-2.5, 0, 2.5, 5, 7.5], "labelExpr": "replace(format(datum.value, '.1f'), '\u2212', '-')", "title": null, "grid": true, "labelPadding": 7}},
                       "y2": {"datum": 7.66}}},
                    {"data": {"values": [{}]}, "mark": {"type": "rect", "color": "#FF9B9B", "opacity": 0.1},
                     "encoding": {"x": {"datum": -2.5, "type": "quantitative"}, "x2": {"datum": 52.5}, "y": {"datum": -3.52, "type": "quantitative"}, "y2": {"datum": 0}}},
                    {"data": {"values": [{}]}, "mark": {"type": "rule", "strokeDash": [11.5, 11.5], "color": "#4D4D4D", "strokeWidth": 2.6}, "encoding": {"y": {"datum": 0, "type": "quantitative"}}},
                    {"data": {"name": "sea"},
                     "transform": [{"filter": "datum.s == 'Autumn'"}, {"window": [{"op": "lead", "field": "p", "as": "p2"}, {"op": "lead", "field": "v", "as": "v2"}], "sort": [{"field": "yr", "order": "ascending"}]}, {"filter": "datum.p2 != null"}],
                     "mark": {"type": "rule", "strokeWidth": 2.2, "opacity": 0.75},
                     "encoding": {"x": {"field": "p", "type": "quantitative"}, "y": {"field": "v", "type": "quantitative"}, "x2": {"field": "p2"}, "y2": {"field": "v2"},
                       "stroke": {"field": "yr", "type": "quantitative", "scale": {"scheme": "plasma", "domain": [2001, 2101.001]}, "legend": null}}},
                    {"data": {"name": "sea"}, "transform": [{"filter": "datum.s == 'Autumn'"}],
                     "mark": {"type": "circle", "size": 155, "opacity": 1},
                     "encoding": {"x": {"field": "p", "type": "quantitative"}, "y": {"field": "v", "type": "quantitative"}, "order": {"field": "yr", "type": "quantitative"},
                       "color": {"field": "yr", "type": "quantitative", "scale": {"scheme": "plasma", "domain": [2001, 2101]}, "legend": {"type": "gradient", "title": "Year", "values": [2025, 2050, 2075, 2100], "format": "d", "direction": "vertical", "labelOffset": 14}}}}
                  ]}
                ]},
                {"bounds": "flush", "spacing": 0, "vconcat": [
                  {"width": 366, "height": 45, "view": {"fill": "#D9D9D9", "stroke": "#333333", "strokeWidth": 1.5}, "data": {"values": [{"lab": "Winter (Dec\u2013Feb)"}]},
                   "mark": {"type": "text", "fontSize": 22, "fontWeight": "bold", "color": "#1A1A1A", "baseline": "middle", "align": "center"}, "encoding": {"text": {"field": "lab", "type": "nominal"}}},
                  {"width": 366, "height": 435, "layer": [
                    {"data": {"values": [{}]}, "mark": {"type": "rect", "color": "#7DA5CD", "opacity": 0.1},
                     "encoding": {
                       "x": {"datum": -2.5, "type": "quantitative", "scale": {"domain": [-2.5, 52.5], "nice": false, "zero": false}, "axis": {"values": [0, 10, 20, 30, 40, 50], "labelExpr": "datum.value + '%'", "title": null, "grid": true, "labelPadding": 5}},
                       "x2": {"datum": 52.5},
                       "y": {"datum": 0, "type": "quantitative", "scale": {"domain": [-3.52, 7.66], "nice": false, "zero": false}, "axis": {"values": [-2.5, 0, 2.5, 5, 7.5], "labels": false, "ticks": false, "title": null, "grid": true}},
                       "y2": {"datum": 7.66}}},
                    {"data": {"values": [{}]}, "mark": {"type": "rect", "color": "#FF9B9B", "opacity": 0.1},
                     "encoding": {"x": {"datum": -2.5, "type": "quantitative"}, "x2": {"datum": 52.5}, "y": {"datum": -3.52, "type": "quantitative"}, "y2": {"datum": 0}}},
                    {"data": {"values": [{}]}, "mark": {"type": "rule", "strokeDash": [11.5, 11.5], "color": "#4D4D4D", "strokeWidth": 2.6}, "encoding": {"y": {"datum": 0, "type": "quantitative"}}},
                    {"data": {"name": "sea"},
                     "transform": [{"filter": "datum.s == 'Winter'"}, {"window": [{"op": "lead", "field": "p", "as": "p2"}, {"op": "lead", "field": "v", "as": "v2"}], "sort": [{"field": "yr", "order": "ascending"}]}, {"filter": "datum.p2 != null"}],
                     "mark": {"type": "rule", "strokeWidth": 2.2, "opacity": 0.75},
                     "encoding": {"x": {"field": "p", "type": "quantitative"}, "y": {"field": "v", "type": "quantitative"}, "x2": {"field": "p2"}, "y2": {"field": "v2"},
                       "stroke": {"field": "yr", "type": "quantitative", "scale": {"scheme": "plasma", "domain": [2001, 2101.001]}, "legend": null}}},
                    {"data": {"name": "sea"}, "transform": [{"filter": "datum.s == 'Winter'"}],
                     "mark": {"type": "circle", "size": 155, "opacity": 1},
                     "encoding": {"x": {"field": "p", "type": "quantitative"}, "y": {"field": "v", "type": "quantitative"}, "order": {"field": "yr", "type": "quantitative"},
                       "color": {"field": "yr", "type": "quantitative", "scale": {"scheme": "plasma", "domain": [2001, 2101]}, "legend": {"type": "gradient", "title": "Year", "values": [2025, 2050, 2075, 2100], "format": "d", "direction": "vertical", "labelOffset": 14}}}}
                  ]}
                ]}
              ]
            }
          ]
        }
      ]
    }
  ]
}
